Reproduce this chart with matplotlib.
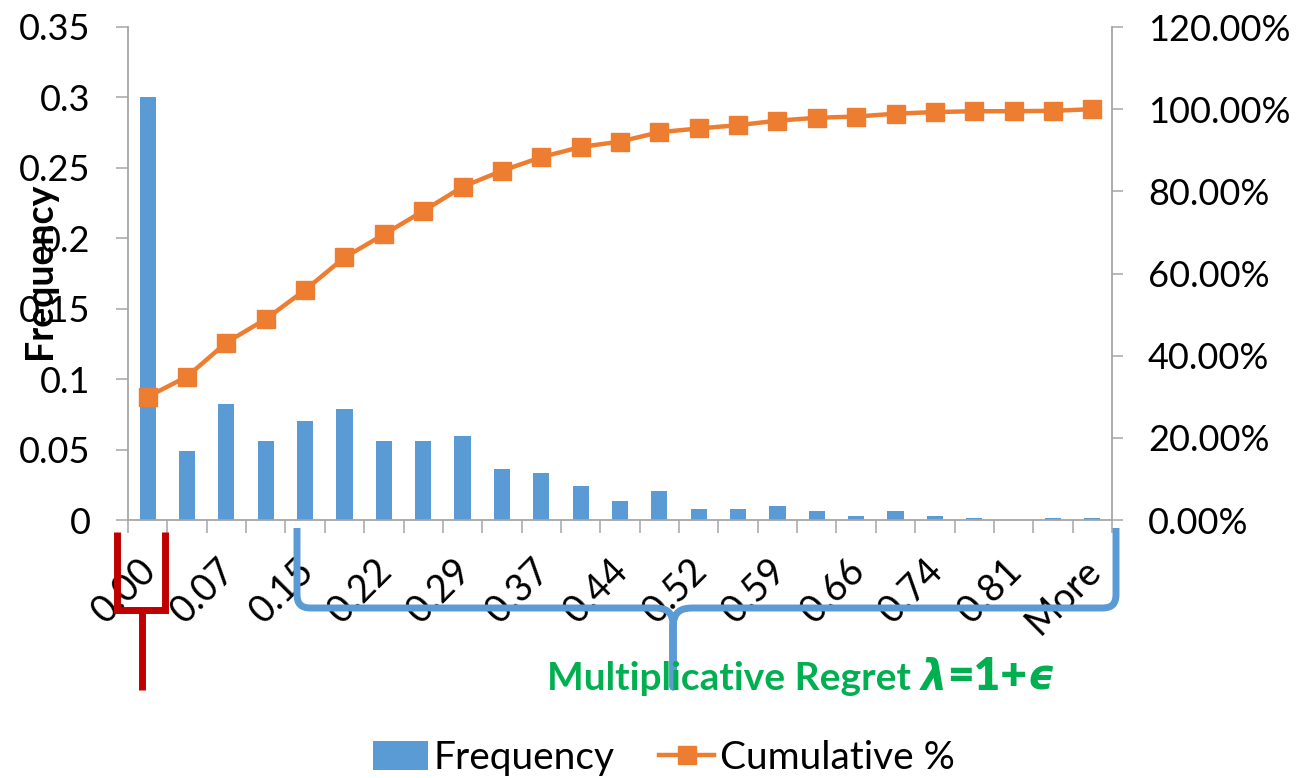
import matplotlib
matplotlib.use("Agg")
import matplotlib.pyplot as plt
from matplotlib.path import Path
from matplotlib.patches import PathPatch
from matplotlib.transforms import ScaledTranslation
import numpy as np

# ---------------- data ----------------
categories = ["0.00", "0.04", "0.07", "0.11", "0.15", "0.18", "0.22", "0.26",
              "0.29", "0.33", "0.37", "0.40", "0.44", "0.48", "0.52", "0.55",
              "0.59", "0.63", "0.66", "0.70", "0.74", "0.77", "0.81", "0.85",
              "More"]
frequency = [0.300, 0.049, 0.0826, 0.056, 0.070, 0.0788, 0.056, 0.056,
             0.0594, 0.0364, 0.0332, 0.0241, 0.0135, 0.0206, 0.008, 0.008,
             0.0099, 0.0064, 0.0028, 0.0064, 0.0028, 0.0012, 0.0, 0.0012, 0.0012]
cumulative = [0.300, 0.349, 0.432, 0.489, 0.560, 0.639, 0.695, 0.752,
              0.811, 0.850, 0.883, 0.908, 0.921, 0.944, 0.953, 0.961,
              0.972, 0.979, 0.982, 0.989, 0.993, 0.995, 0.995, 0.996, 1.000]
left_ticks = [0, 0.05, 0.1, 0.15, 0.2, 0.25, 0.3, 0.35]
left_tick_labels = ["0", "0.05", "0.1", "0.15", "0.2", "0.25", "0.3", "0.35"]
right_ticks = [0, 0.2, 0.4, 0.6, 0.8, 1.0, 1.2]
right_tick_labels = ["0.00%", "20.00%", "40.00%", "60.00%", "80.00%", "100.00%", "120.00%"]

# ---------------- style ----------------
FONT = ["Lato", "DejaVu Sans"]
plt.rcParams["font.family"] = FONT
BLUE = "#5B9BD5"
ORANGE = "#ED7D31"
GREEN = "#00B050"
RED = "#C00000"
GRAY = "#A6A6A6"
TS = 26

W, H = 1306, 778
fig = plt.figure(figsize=(W / 100, H / 100), dpi=100)
L, R, T, B = 128, 1112, 27, 520
ax = fig.add_axes([L / W, 1 - B / H, (R - L) / W, (B - T) / H])
ax2 = ax.twinx()

x = np.arange(len(categories))
bars = ax.bar(x, frequency, width=0.41, color=BLUE, label="Frequency", zorder=2)
line, = ax2.plot(x, cumulative, color=ORANGE, lw=3.2, marker="s", markersize=13,
                 markerfacecolor=ORANGE, markeredgecolor=ORANGE, label="Cumulative %",
                 zorder=3)

ax.set_xlim(-0.5, len(categories) - 0.5)
ax.set_ylim(0, 0.35)
ax2.set_ylim(0, 1.2)

for a in (ax, ax2):
    a.spines["top"].set_visible(False)
    for s in ("left", "right", "bottom"):
        a.spines[s].set_color(GRAY)
        a.spines[s].set_linewidth(1.3)
ax.spines["right"].set_visible(False)
ax2.spines["left"].set_visible(False)
ax2.spines["bottom"].set_visible(False)

ax.set_yticks(left_ticks)
ax.set_yticklabels(left_tick_labels)
ax.tick_params(axis="y", length=9, width=1.1, color=GRAY, labelsize=TS, pad=18)
ax2.set_yticks(right_ticks)
ax2.set_yticklabels(right_tick_labels)
ax2.tick_params(axis="y", length=8, width=1.1, color=GRAY, labelsize=TS, pad=18)

# x axis: minor ticks at boundaries, labels at every other category
ax.set_xticks(np.arange(-0.5, len(categories), 1.0), minor=True)
ax.set_xticks(x[::2])
ax.set_xticklabels(categories[::2], rotation=45, ha="right", va="center",
                   rotation_mode="anchor")
ax.tick_params(axis="x", which="major", length=0, labelsize=TS + 1, pad=32)
ax.tick_params(axis="x", which="minor", length=9.5, width=1.1, color=GRAY)
off = ScaledTranslation(3 / 100, 0, fig.dpi_scale_trans)
for lab in ax.get_xticklabels():
    lab.set_transform(lab.get_transform() + off)

# y label (figure text)
fig.text(40 / W, 1 - 271 / H, "Frequency", rotation=90, ha="center", va="center",
         fontsize=27, fontweight="bold")

# legend
fig.legend([bars, line], ["Frequency", "Cumulative %"], loc="center",
           bbox_to_anchor=(664 / W, 1 - 758 / H), ncol=2, frameon=False,
           fontsize=28, handlelength=1.4, handleheight=0.75, handletextpad=0.15,
           columnspacing=1.15, borderpad=0)

# ---------------- annotations (overlay in pixel coords) ----------------
ov = fig.add_axes([0, 0, 1, 1], zorder=10)
ov.set_xlim(0, W)
ov.set_ylim(H, 0)
ov.axis("off")
ov.patch.set_alpha(0)

# red bracket
ov.plot([117, 117, 165, 165], [532, 610, 610, 532], color=RED, lw=5,
        solid_joinstyle="miter", solid_capstyle="butt")
ov.plot([142, 142], [610, 690], color=RED, lw=5, solid_capstyle="butt")

# blue curly brace
verts = [(297, 528), (297, 594),
         (297, 604), (301, 608), (311, 608),
         (654, 608),
         (667, 608), (673, 612), (673, 626),
         (673, 687),
         (673, 626),
         (674, 612), (680, 608), (693, 608),
         (1102, 608),
         (1112, 608), (1116, 604), (1116, 594),
         (1116, 528)]
codes = [Path.MOVETO, Path.LINETO,
         Path.CURVE4, Path.CURVE4, Path.CURVE4,
         Path.LINETO,
         Path.CURVE4, Path.CURVE4, Path.CURVE4,
         Path.LINETO,
         Path.LINETO,
         Path.CURVE4, Path.CURVE4, Path.CURVE4,
         Path.LINETO,
         Path.CURVE4, Path.CURVE4, Path.CURVE4,
         Path.LINETO]
ov.add_patch(PathPatch(Path(verts, codes), facecolor="none", edgecolor=BLUE,
                       lw=5, capstyle="butt", joinstyle="round"))

# green text, built piece by piece along the baseline
renderer = fig.canvas.get_renderer()
pieces = [("Multiplicative Regret ", dict(fontsize=28, fontweight="bold", family=FONT)),
          ("λ", dict(fontsize=30, fontweight="bold", fontstyle="oblique",
                     family=["DejaVu Sans"])),
          ("=1+", dict(fontsize=33, fontweight="heavy", family=FONT)),
          ("ϵ", dict(fontsize=30, fontweight="bold", fontstyle="oblique",
                     family=["DejaVu Sans"]))]
xpos = 547
for txt, kw in pieces:
    t = ov.text(xpos, 690, txt, color=GREEN, ha="left", va="baseline", **kw)
    bb = t.get_window_extent(renderer=renderer)
    xpos += bb.width

fig.savefig("out.png", dpi=100)
